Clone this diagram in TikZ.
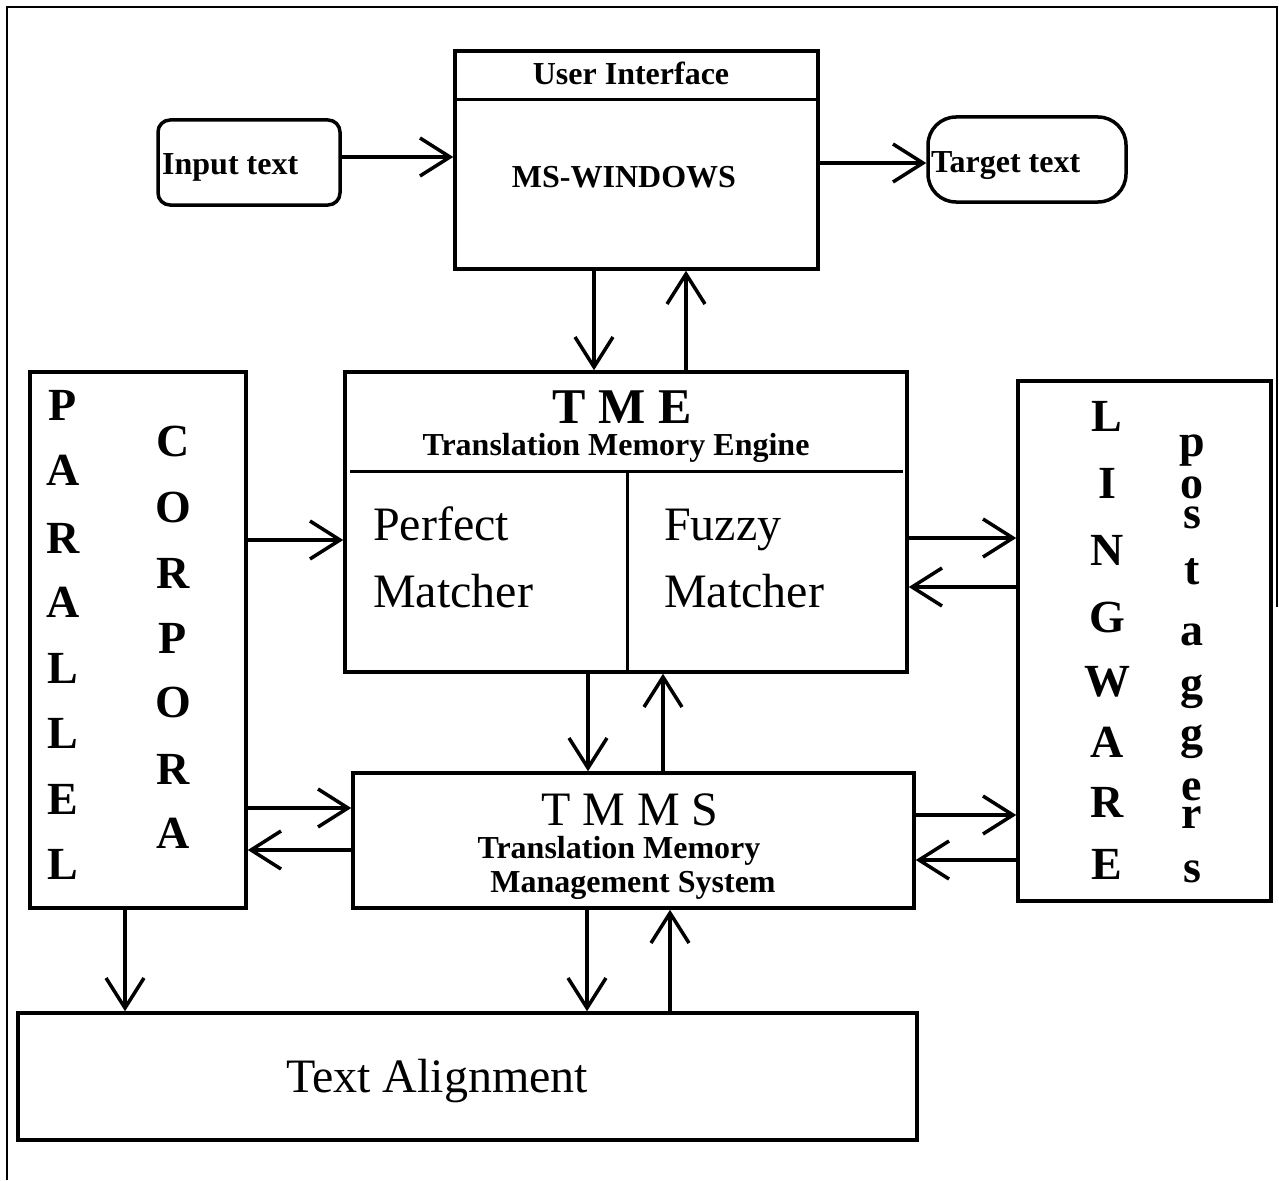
\documentclass[tikz,border=0pt]{standalone}
\usepackage{fontspec}
\setmainfont{Liberation Serif}
\usetikzlibrary{arrows.meta}

\begin{document}
\begin{tikzpicture}[x=1pt,y=-1pt,
  box/.style={draw, line width=3.5pt, inner sep=0pt},
  lbl/.style={inner sep=0pt, font=\fontsize{32}{38}\selectfont\bfseries},
  big/.style={inner sep=0pt, font=\fontsize{48}{56}\selectfont},
  col/.style={inner sep=0pt, font=\fontsize{46}{52}\selectfont\bfseries},
  arr/.style={line width=3.5pt, -{Straight Barb[length=30pt,width=38pt]}}]

\useasboundingbox (0,0) rectangle (1279,1180);

% outer frame (open at the bottom)
\draw[line width=2.5pt] (7,1180) -- (7,7) -- (1277,7) -- (1277,607);

% boxes
\node[box, rounded corners=12pt, minimum width=182pt, minimum height=85pt] (inp) at (249,162.5) {};
\node[box, minimum width=363pt, minimum height=218pt] (ui) at (636.5,160) {};
\node[box, rounded corners=28pt, minimum width=198pt, minimum height=85pt] (tgt) at (1027,159.5) {};
\node[box, minimum width=562pt, minimum height=300pt] (tme) at (626,522) {};
\node[box, minimum width=216pt, minimum height=536pt] (par) at (138,640) {};
\node[box, minimum width=253pt, minimum height=520pt] (lng) at (1144.5,641) {};
\node[box, minimum width=561pt, minimum height=135pt] (tmms) at (633.5,840.5) {};
\node[box, minimum width=899pt, minimum height=127pt] (ta) at (467.5,1076.5) {};

% compartment lines
\draw[line width=3pt] ([yshift=-50pt]ui.north west) -- ([yshift=-50pt]ui.north east);
\draw[line width=3pt] ([shift={(7pt,-101pt)}]tme.north west) -- ([shift={(-6pt,-101pt)}]tme.north east);
\draw[line width=3pt] ([shift={(1pt,-101pt)}]tme.north) -- ([xshift=1pt]tme.south);

% labels
\node[lbl, anchor=base west] (inptxt) at (162,174) {Input text};
\node[lbl, anchor=base west] (tgttxt) at (931,172) {Target text};
\node[lbl, anchor=base] (uititle) at (631,85) {User Interface};
\node[lbl, anchor=base] (uisys) at (624,187) {MS-WINDOWS};
\node[lbl, font=\fontsize{50}{58}\selectfont\bfseries, anchor=base] (tmeabbr) at (622,423) {T M E};
\node[lbl, anchor=base] (tmename) at (616,455) {Translation Memory Engine};
\node[big, anchor=base west] (pm1) at (373,540) {Perfect};
\node[big, anchor=base west] (pm2) at (373,607) {Matcher};
\node[big, anchor=base west] (fm1) at (664,540) {Fuzzy};
\node[big, anchor=base west] (fm2) at (664,607) {Matcher};
\node[big, anchor=base] (tmmsabbr) at (630,825) {T M M S};
\node[lbl, anchor=base] (tmmsname1) at (619,858) {Translation Memory};
\node[lbl, anchor=base] (tmmsname2) at (633,892) {Management System};
\node[big, anchor=base] (tatxt) at (437,1092) {Text Alignment};

% vertical lettering
\foreach \l/\y [count=\i] in {P/405.5,A/470,R/538.5,A/602,L/668,L/733,E/799,L/864}
  \node[col] (parl\i) at (63,\y) {\l};
\foreach \l/\y [count=\i] in {C/441,O/507,R/573.5,P/638,O/702,R/769.5,A/833}
  \node[col] (corl\i) at (173,\y) {\l};
\foreach \l/\y [count=\i] in {L/416,I/483,N/550,G/617,W/682,A/742,R/802,E/864}
  \node[col] (lngl\i) at (1107,\y) {\l};
\foreach \l/\y [count=\i] in {p/451,o/488,s/518,t/572,a/635,g/692,g/742,e/790,r/818,s/872}
  \node[col] (tagl\i) at (1192,\y) {\l};

% connectors
\draw[arr] ([yshift=5.5pt]inp.east) -- ([yshift=3pt]ui.west);
\draw[arr] ([yshift=-3pt]ui.east) -- ([yshift=-3.5pt]tgt.west);
\draw[arr] ([xshift=-42.5pt]ui.south) -- ([xshift=-32pt]tme.north);
\draw[arr] ([xshift=60pt]tme.north) -- ([xshift=49.5pt]ui.south);
\draw[arr] ([yshift=100pt]par.east) -- ([yshift=-18pt]tme.west);
\draw[arr] ([yshift=-16pt]tme.east) -- ([yshift=103pt]lng.west);
\draw[arr] ([yshift=54pt]lng.west) -- ([yshift=-65pt]tme.east);
\draw[arr] ([xshift=-38pt]tme.south) -- ([xshift=-45.5pt]tmms.north);
\draw[arr] ([xshift=29.5pt]tmms.north) -- ([xshift=37pt]tme.south);
\draw[arr] ([yshift=-168pt]par.east) -- ([yshift=32.5pt]tmms.west);
\draw[arr] ([yshift=-9.5pt]tmms.west) -- ([yshift=-210pt]par.east);
\draw[arr] ([yshift=25.5pt]tmms.east) -- ([yshift=-174pt]lng.west);
\draw[arr] ([yshift=-219pt]lng.west) -- ([yshift=-19.5pt]tmms.east);
\draw[arr] ([xshift=-13pt]par.south) -- ([xshift=-342.5pt]ta.north);
\draw[arr] ([xshift=-46.5pt]tmms.south) -- ([xshift=119.5pt]ta.north);
\draw[arr] ([xshift=202.5pt]ta.north) -- ([xshift=36.5pt]tmms.south);

\end{tikzpicture}
\end{document}
